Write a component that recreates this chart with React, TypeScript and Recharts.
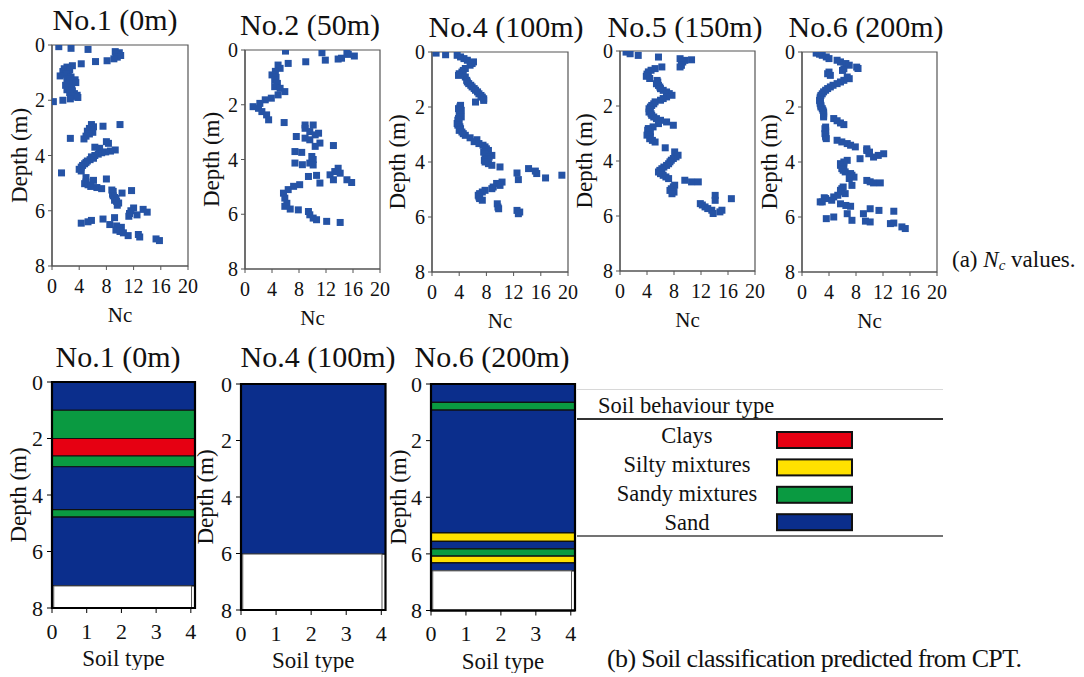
import React from 'react';
import { ScatterChart, Scatter, ComposedChart, Area, XAxis, YAxis, ReferenceArea } from 'recharts';

const FONT = '"Liberation Serif", "Times New Roman", Times, serif';

// ---------- tick labels ----------
const ncTicks = [0, 4, 8, 12, 16, 20];
const depthTicks = [0, 2, 4, 6, 8];
const soilTicks = [0, 1, 2, 3, 4];

// ---------- titles ----------
const cptTitles = ['No.1 (0m)', 'No.2 (50m)', 'No.4 (100m)', 'No.5 (150m)', 'No.6 (200m)'];
const soilTitles = ['No.1 (0m)', 'No.4 (100m)', 'No.6 (200m)'];

// ---------- Nc values: [depth (m), Nc] ----------
const no1Nc: [number, number][] = [
  [0.06, 1.0], [0.12, 2.8], [0.16, 5.3], [0.24, 9.3], [0.28, 9.9], [0.33, 9.4], [0.38, 10.1], [0.44, 9.6], [0.5, 9.1],
  [0.57, 8.1], [0.6, 6.4], [0.68, 4.3], [0.75, 3.0], [0.8, 2.2], [0.86, 1.8], [0.9, 2.6], [0.96, 1.6], [1.02, 2.4],
  [1.06, 2.0], [1.12, 1.2], [1.16, 2.8], [1.22, 2.2], [1.26, 3.4], [1.32, 2.6], [1.36, 3.5], [1.42, 2.5], [1.46, 2.0],
  [1.52, 2.4], [1.56, 2.9], [1.62, 2.2], [1.66, 3.0], [1.72, 2.6], [1.76, 3.3], [1.82, 3.7], [1.86, 2.9], [1.9, 3.8],
  [1.95, 2.7], [2.0, 1.6], [2.05, 0.2],
  [2.88, 10.0], [2.94, 7.5], [2.88, 5.8], [2.96, 6.1], [3.02, 5.5], [3.06, 5.8], [3.12, 5.2], [3.16, 6.0], [3.22, 5.5],
  [3.3, 5.0], [3.38, 2.7], [3.4, 4.7], [3.5, 8.0], [3.56, 8.3], [3.7, 6.3], [3.74, 7.0], [3.8, 9.3], [3.84, 8.6],
  [3.87, 7.9], [3.9, 7.3], [3.95, 6.8], [4.0, 6.3], [4.05, 5.8], [4.1, 6.1], [4.15, 5.6], [4.2, 5.2], [4.25, 5.0],
  [4.3, 4.8], [4.36, 4.5], [4.42, 4.3], [4.5, 4.0], [4.56, 4.3], [4.63, 1.4], [4.8, 5.0], [4.85, 8.0], [4.9, 6.1],
  [4.96, 5.0], [5.02, 4.8], [5.06, 5.3], [5.12, 5.7], [5.16, 6.6], [5.2, 7.3], [5.25, 8.8], [5.27, 11.7], [5.3, 9.0],
  [5.36, 10.3], [5.4, 8.9], [5.46, 9.0], [5.52, 9.2], [5.56, 9.4], [5.62, 9.2], [5.66, 9.5], [5.72, 9.8], [5.8, 9.6],
  [5.9, 12.0], [5.95, 13.4], [6.0, 11.6], [6.05, 14.0], [6.1, 11.4], [6.15, 12.5], [6.2, 11.3], [6.25, 9.2], [6.3, 7.5],
  [6.35, 5.8], [6.4, 5.3], [6.45, 4.3], [6.5, 8.5], [6.55, 9.5], [6.6, 10.2], [6.65, 9.8], [6.7, 9.4], [6.75, 10.0],
  [6.8, 10.5], [6.9, 11.2], [6.86, 12.7], [6.95, 12.9], [7.02, 15.3], [7.08, 15.8],
];

const no2Nc: [number, number][] = [
  [0.04, 6.0], [0.1, 11.4], [0.1, 15.1], [0.16, 15.3], [0.22, 16.2], [0.3, 14.3], [0.33, 13.8], [0.37, 11.9], [0.43, 9.0],
  [0.49, 6.4], [0.55, 4.9], [0.67, 5.2], [0.78, 4.5], [0.91, 4.0], [1.0, 4.6], [1.1, 4.4], [1.22, 4.8], [1.34, 4.4],
  [1.4, 5.2], [1.52, 5.9], [1.64, 4.9], [1.76, 3.9], [1.82, 3.0], [1.95, 2.2], [2.07, 1.2], [2.13, 2.0], [2.25, 2.5],
  [2.37, 3.2], [2.55, 3.5], [2.65, 5.8],
  [2.74, 8.9], [2.74, 10.1], [2.86, 8.9], [2.98, 9.6], [3.1, 10.4], [3.04, 10.9], [3.16, 7.6], [3.22, 8.9], [3.28, 9.6],
  [3.4, 11.1], [3.52, 10.4], [3.49, 13.1], [3.71, 7.4], [3.74, 8.4], [3.89, 9.9], [4.0, 10.1], [4.13, 9.6], [4.13, 7.4],
  [4.19, 8.5], [4.2, 10.1], [4.32, 13.8], [4.44, 13.3], [4.56, 12.6], [4.5, 14.1], [4.74, 13.1], [4.62, 9.4],
  [4.58, 10.6], [4.86, 11.1], [4.74, 15.1], [4.84, 15.8], [4.92, 8.1], [4.98, 7.2], [5.1, 6.4], [5.23, 5.7], [5.41, 5.9],
  [5.6, 6.2], [5.71, 5.9], [5.81, 6.7], [5.84, 7.9], [5.9, 9.4], [6.02, 9.6], [6.14, 10.1], [6.2, 10.6], [6.26, 12.1],
  [6.3, 14.1],
];

const no4Nc: [number, number][] = [
  [0.04, 0.6], [0.1, 2.0], [0.12, 3.7], [0.18, 4.2], [0.24, 4.7], [0.3, 5.2], [0.36, 6.1], [0.42, 5.9], [0.48, 5.6],
  [0.6, 4.9], [0.67, 4.6], [0.73, 4.4], [0.79, 4.0], [0.85, 3.9], [0.91, 4.9], [1.03, 5.1], [1.09, 5.2], [1.15, 5.4],
  [1.21, 5.7], [1.27, 5.9], [1.33, 6.2], [1.39, 6.4], [1.45, 6.7], [1.52, 6.9], [1.58, 7.2], [1.64, 7.4], [1.7, 7.6],
  [1.76, 7.6], [1.82, 6.4], [1.94, 4.2], [2.0, 4.1], [2.06, 3.9], [2.12, 4.3], [2.24, 4.2], [2.3, 4.0], [2.36, 4.3],
  [2.42, 3.9], [2.48, 3.8], [2.54, 4.0], [2.6, 3.7], [2.66, 3.8], [2.72, 4.1], [2.79, 4.2], [2.85, 4.0], [2.91, 4.4],
  [2.97, 4.6], [3.03, 4.9], [3.12, 5.6], [3.19, 6.6], [3.26, 6.2], [3.33, 6.9], [3.39, 7.5], [3.45, 7.8], [3.52, 8.0],
  [3.58, 8.3], [3.64, 7.6], [3.7, 7.8], [3.76, 8.8], [3.82, 8.4], [3.88, 8.1], [3.94, 7.7], [4.0, 7.8], [4.06, 8.3],
  [4.12, 8.8], [4.18, 10.0], [4.24, 14.2], [4.33, 15.2], [4.4, 12.5], [4.42, 15.4], [4.58, 16.7], [4.48, 19.1],
  [4.64, 12.7], [4.73, 10.3], [4.78, 9.5], [4.85, 10.0], [4.91, 9.0], [4.97, 8.8], [5.03, 7.8], [5.09, 7.4], [5.15, 7.0],
  [5.21, 6.8], [5.27, 6.9], [5.33, 7.0], [5.39, 7.4], [5.52, 9.6], [5.64, 9.7], [5.7, 9.8], [5.76, 12.5], [5.82, 12.9],
  [5.88, 12.7],
];

const no5Nc: [number, number][] = [
  [0.04, 0.9], [0.1, 1.5], [0.16, 2.7], [0.22, 5.7], [0.28, 8.9], [0.34, 9.6], [0.32, 10.6], [0.4, 9.3], [0.52, 9.1],
  [0.58, 8.9], [0.58, 6.2], [0.64, 5.2], [0.7, 4.6], [0.76, 4.2], [0.84, 4.0], [0.92, 3.9], [1.0, 4.4], [1.07, 5.5],
  [1.13, 5.6], [1.19, 5.4], [1.25, 5.7], [1.31, 5.9], [1.37, 6.0], [1.43, 6.4], [1.49, 6.9], [1.55, 7.3], [1.61, 7.7],
  [1.67, 6.9], [1.73, 6.4], [1.79, 6.0], [1.85, 5.2], [1.92, 5.0], [1.98, 4.7], [2.04, 4.5], [2.1, 4.3], [2.16, 4.4],
  [2.22, 4.3], [2.28, 4.6], [2.34, 4.7], [2.4, 5.0], [2.46, 5.4], [2.52, 6.0], [2.58, 6.9], [2.7, 7.9], [2.64, 5.7],
  [2.76, 4.9], [2.82, 4.2], [2.88, 4.1], [2.94, 4.5], [3.0, 4.2], [3.06, 4.0], [3.12, 4.5], [3.19, 4.4], [3.25, 4.8],
  [3.31, 5.2], [3.52, 6.7], [3.67, 8.1], [3.79, 8.6], [3.85, 8.3], [3.91, 7.9], [3.97, 7.6], [4.03, 7.4], [4.1, 7.2],
  [4.16, 6.9], [4.22, 6.5], [4.28, 6.2], [4.34, 5.9], [4.4, 5.7], [4.46, 6.0], [4.52, 6.4], [4.58, 6.8], [4.64, 7.2],
  [4.7, 9.6], [4.76, 10.6], [4.76, 11.6], [4.88, 8.1], [4.94, 7.9], [5.01, 7.6], [5.07, 7.4], [5.13, 8.0], [5.19, 7.7],
  [5.25, 14.1], [5.37, 16.5], [5.43, 14.1], [5.55, 11.9], [5.6, 12.2], [5.67, 12.6], [5.73, 13.0], [5.79, 13.6],
  [5.79, 15.1], [5.85, 14.8], [5.91, 13.8],
];

const no6Nc: [number, number][] = [
  [0.04, 2.1], [0.08, 2.6], [0.12, 3.0], [0.18, 3.6], [0.24, 4.0], [0.3, 5.2], [0.36, 5.7], [0.42, 6.5], [0.48, 7.0],
  [0.55, 8.1], [0.6, 8.3], [0.61, 6.2], [0.67, 6.0], [0.73, 4.0], [0.79, 3.8], [0.85, 4.2], [0.91, 6.7], [0.97, 7.0],
  [1.03, 6.2], [1.09, 5.7], [1.15, 5.2], [1.21, 4.6], [1.27, 4.2], [1.33, 3.8], [1.39, 3.5], [1.45, 3.2], [1.52, 3.0],
  [1.58, 2.8], [1.64, 2.7], [1.7, 2.7], [1.76, 2.6], [1.82, 2.7], [1.88, 2.7], [1.94, 2.8], [2.0, 2.8], [2.06, 3.0],
  [2.12, 3.1], [2.18, 3.2], [2.24, 3.2], [2.3, 3.2], [2.36, 3.2], [2.42, 4.7], [2.5, 5.2], [2.58, 5.7], [2.64, 6.2],
  [2.73, 3.5], [2.79, 3.4], [2.85, 3.5], [2.91, 3.5], [2.97, 3.4], [3.03, 3.5], [3.09, 3.5], [3.15, 3.6], [3.21, 5.2],
  [3.27, 5.9], [3.33, 6.7], [3.39, 7.2], [3.45, 7.9], [3.52, 9.6], [3.58, 9.6], [3.64, 10.0], [3.7, 9.9], [3.7, 12.1],
  [3.76, 11.3], [3.82, 10.6], [3.88, 8.6], [3.94, 6.7], [4.0, 6.2], [4.06, 5.7], [4.12, 5.7], [4.18, 6.2], [4.24, 5.9],
  [4.3, 6.1], [4.36, 6.4], [4.42, 7.2], [4.48, 7.4], [4.55, 7.7], [4.6, 7.0], [4.67, 9.6], [4.72, 10.1], [4.76, 10.6],
  [4.76, 11.6], [4.85, 7.4], [4.91, 6.1], [4.97, 5.9], [5.03, 5.7], [5.09, 5.7], [5.15, 6.4], [5.21, 5.3], [5.27, 4.7],
  [5.3, 3.3], [5.33, 3.5], [5.39, 4.4], [5.45, 2.7], [5.45, 3.0], [5.52, 5.7], [5.58, 6.5], [5.61, 7.2], [5.7, 10.1],
  [5.76, 11.4], [5.79, 13.6], [5.88, 9.1], [5.88, 6.7], [6.0, 4.7], [6.06, 3.6], [6.12, 7.4], [6.15, 9.4], [6.18, 10.1],
  [6.24, 13.1], [6.22, 13.6], [6.36, 14.8], [6.42, 15.3],
];

// ---------- soil behaviour type ----------
const soilTypes = ['Clays', 'Silty mixtures', 'Sandy mixtures', 'Sand'];
const soilColors = ['#e60012', '#ffe100', '#0a9a41', '#0b2e8c'];

// layers: [from depth, to depth, soil type] ; '' = below end of sounding
const no1Layers: [number, number, string][] = [
  [0, 1.0, 'Sand'], [1.0, 2.0, 'Sandy mixtures'], [2.0, 2.62, 'Clays'], [2.62, 3.0, 'Sandy mixtures'],
  [3.0, 4.52, 'Sand'], [4.52, 4.78, 'Sandy mixtures'], [4.78, 7.22, 'Sand'], [7.22, 8, ''],
];
const no4Layers: [number, number, string][] = [
  [0, 6.02, 'Sand'], [6.02, 8, ''],
];
const no6Layers: [number, number, string][] = [
  [0, 0.65, 'Sand'], [0.65, 0.92, 'Sandy mixtures'], [0.92, 5.26, 'Sand'], [5.26, 5.56, 'Silty mixtures'],
  [5.56, 5.82, 'Sand'], [5.82, 6.08, 'Sandy mixtures'], [6.08, 6.32, 'Silty mixtures'], [6.32, 6.6, 'Sand'], [6.6, 8, ''],
];

// ---------- layout (positions only) ----------
const cptBoxes = [
  { x: 52, y: 45, w: 136, h: 221, lo: 17, tx: 115, ty: 30 },
  { x: 245, y: 50, w: 135, h: 219, lo: 16, tx: 310, ty: 35 },
  { x: 432, y: 52, w: 136, h: 220, lo: 14.5, tx: 506, ty: 36.5 },
  { x: 620, y: 51, w: 135, h: 220, lo: 13.5, tx: 685, ty: 36.5 },
  { x: 802, y: 52, w: 135, h: 220, lo: 17, tx: 866, ty: 37 },
];
const soilBoxes = [
  { x: 52, y: 382, w: 143, h: 226, lo: 15.5, tx: 118, ty: 366.5 },
  { x: 240.5, y: 384, w: 144.5, h: 226, lo: 13.5, tx: 318, ty: 366.5 },
  { x: 431, y: 384, w: 144, h: 226.5, lo: 17, tx: 492, ty: 366.5 },
];

const cptData = [no1Nc, no2Nc, no4Nc, no5Nc, no6Nc];
const soilData = [no1Layers, no4Layers, no6Layers];

const POINT = '#2553a5';
const SOIL_X_MAX = 4.12;
const TXT = '#111';

const Square = (props: any) => {
  const { cx, cy } = props;
  if (cx == null || cy == null) return null;
  return <rect x={cx - 3.5} y={cy - 3.5} width={7} height={7} fill={POINT} />;
};

const xTick = (fs: number) => (p: any) => (
  <text x={p.x} y={p.y} dy={fs * 0.71} textAnchor="middle" fontSize={fs} fontFamily={FONT} fill={TXT}>
    {p.payload.value}
  </text>
);
const yTick = (fs: number) => (p: any) => (
  <text x={p.x} y={p.y} dy={fs * 0.35} textAnchor="end" fontSize={fs} fontFamily={FONT} fill={TXT}>
    {p.payload.value}
  </text>
);
const xLabel = (text: string, fs: number, offset: number) => (p: any) => {
  const vb = p.viewBox || {};
  return (
    <text x={vb.x + vb.width / 2} y={vb.y + vb.height - offset} textAnchor="middle" fontSize={fs} fontFamily={FONT} fill={TXT}>
      {text}
    </text>
  );
};
const yLabel = (text: string, fs: number, offset: number) => (p: any) => {
  const vb = p.viewBox || {};
  const cx = vb.x + offset;
  const cy = vb.y + vb.height / 2;
  return (
    <text x={cx} y={cy} dy={fs * 0.35} transform={`rotate(-90, ${cx}, ${cy})`} textAnchor="middle" fontSize={fs} fontFamily={FONT} fill={TXT}>
      {text}
    </text>
  );
};

function NcPanel({ data, box }: { data: [number, number][]; box: any }) {
  const yw = 50, mt = 20, mr = 10, xh = 60;
  const W = box.w + yw + mr;
  const H = box.h + mt + xh;
  const pts = data.map(([depth, nc]) => ({ depth, nc }));
  return (
    <div style={{ position: 'absolute', left: box.x - yw, top: box.y - mt }}>
      <ScatterChart width={W} height={H} margin={{ top: mt, right: mr, bottom: 0, left: 0 }}>
        <XAxis
          type="number" dataKey="nc" domain={[0, 20]} ticks={ncTicks} interval={0} allowDataOverflow
          height={xh} tickSize={4} tickMargin={9}
          axisLine={{ stroke: '#555', strokeWidth: 1.2 }} tickLine={{ stroke: '#555' }} tick={xTick(20)}
          label={xLabel('Nc', 21, 4)}
        />
        <YAxis
          type="number" dataKey="depth" domain={[0, 8]} reversed ticks={depthTicks} interval={0} allowDataOverflow
          width={yw} tickSize={4} tickMargin={3}
          axisLine={{ stroke: '#555', strokeWidth: 1.2 }} tickLine={{ stroke: '#555' }} tick={yTick(20)}
          label={yLabel('Depth (m)', 23, box.lo)}
        />
        <ReferenceArea x1={0} x2={20} y1={0} y2={8} fill="none" stroke="#555" strokeWidth={1.2} />
        <Scatter data={pts} fill={POINT} shape={Square} isAnimationActive={false} />
      </ScatterChart>
    </div>
  );
}

function SoilPanel({ layers, box }: { layers: [number, number, string][]; box: any }) {
  const yw = 50, mt = 20, mr = 10, xh = 62;
  const W = box.w + yw + mr;
  const H = box.h + mt + xh;
  // two rows (left and right edge of the column), each layer as a [top, bottom] range
  const rows = [0, SOIL_X_MAX].map((x) => {
    const row: any = { x };
    layers.forEach(([from, to, type], i) => {
      if (type) row['l' + i] = [from, to];
    });
    return row;
  });
  return (
    <div style={{ position: 'absolute', left: box.x - yw, top: box.y - mt }}>
      <ComposedChart width={W} height={H} data={rows} margin={{ top: mt, right: mr, bottom: 0, left: 0 }}>
        <XAxis
          type="number" dataKey="x" domain={[0, SOIL_X_MAX]} ticks={soilTicks} interval={0} allowDataOverflow
          height={xh} tickSize={5} tickMargin={10}
          axisLine={{ stroke: '#000', strokeWidth: 2 }} tickLine={{ stroke: '#000' }} tick={xTick(22)}
          label={xLabel('Soil type', 23, 4)}
        />
        <YAxis
          type="number" domain={[0, 8]} reversed ticks={depthTicks} interval={0} allowDataOverflow
          width={yw} tickSize={5} tickMargin={4}
          axisLine={{ stroke: '#000', strokeWidth: 2 }} tickLine={{ stroke: '#000' }} tick={yTick(22)}
          label={yLabel('Depth (m)', 23, box.lo)}
        />
        {layers.map(([from, to, type], i) =>
          type === '' ? null : (
            <Area
              key={i} dataKey={'l' + i} type="linear" fill={soilColors[soilTypes.indexOf(type)]} fillOpacity={1}
              stroke="#111" strokeWidth={1.2} dot={false} activeDot={false} isAnimationActive={false}
            />
          )
        )}
        {layers.map(([from, to, type], i) =>
          type === '' ? (
            <ReferenceArea key={'e' + i} x1={0.05} x2={4.02} y1={from} y2={to} fill="#ffffff" fillOpacity={1} stroke="#555" strokeWidth={1} />
          ) : null
        )}
        <ReferenceArea x1={0} x2={SOIL_X_MAX} y1={0} y2={8} fill="none" stroke="#000" strokeWidth={2.2} />
      </ComposedChart>
    </div>
  );
}

export default function App() {
  const txt = { fontFamily: FONT, fill: TXT } as const;
  return (
    <div style={{ position: 'absolute', left: 0, top: 0, width: 1084, height: 677, background: '#fff', overflow: 'hidden', fontFamily: FONT }}>
      {cptData.map((d, i) => (
        <NcPanel key={i} data={d} box={cptBoxes[i]} />
      ))}
      {soilData.map((l, i) => (
        <SoilPanel key={i} layers={l} box={soilBoxes[i]} />
      ))}
      <svg width={1084} height={677} style={{ position: 'absolute', left: 0, top: 0, pointerEvents: 'none' }}>
        {cptTitles.map((t, i) => (
          <text key={'ct' + i} x={cptBoxes[i].tx} y={cptBoxes[i].ty} textAnchor="middle" fontSize={30} {...txt}>{t}</text>
        ))}
        {soilTitles.map((t, i) => (
          <text key={'st' + i} x={soilBoxes[i].tx} y={soilBoxes[i].ty} textAnchor="middle" fontSize={30} {...txt}>{t}</text>
        ))}
        <text x={952} y={266.5} fontSize={23} {...txt}>
          (a) <tspan fontStyle="italic">N</tspan>
          <tspan fontStyle="italic" fontSize={15} dy={3}>c</tspan>
          <tspan dy={-3}> values.</tspan>
        </text>
        <text x={607} y={666.5} fontSize={26} textLength={415} lengthAdjust="spacing" {...txt}>
          (b) Soil classification predicted from CPT.
        </text>
        {/* legend */}
        <line x1={577} x2={943} y1={389.5} y2={389.5} stroke="#d8d8d8" strokeWidth={1} />
        <text x={598} y={413.3} fontSize={22.5} {...txt}>Soil behaviour type</text>
        <line x1={577} x2={943} y1={419} y2={419} stroke="#333" strokeWidth={2} />
        {soilTypes.map((t, i) => (
          <g key={'lg' + i}>
            <text x={687} y={443.3 + i * 28.9} textAnchor="middle" fontSize={22.5} {...txt}>{t}</text>
            <rect x={777} y={432 + i * 27.4} width={75} height={16} fill={soilColors[i]} stroke="#111" strokeWidth={2} />
          </g>
        ))}
        <line x1={577} x2={943} y1={536} y2={536} stroke="#444" strokeWidth={1.5} />
      </svg>
    </div>
  );
}
